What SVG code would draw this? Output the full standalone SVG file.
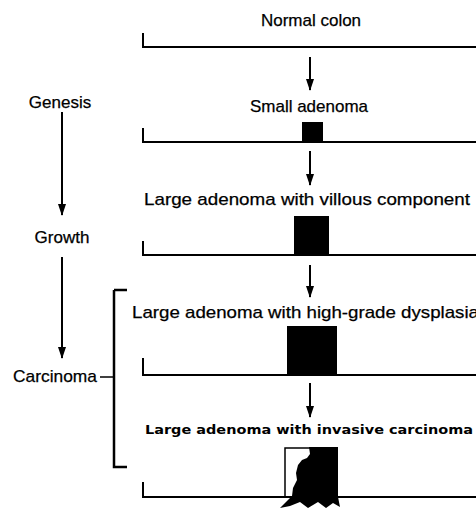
<svg xmlns="http://www.w3.org/2000/svg" width="476" height="508" viewBox="0 0 476 508">
<style>
.t{font-family:"Liberation Sans",Arial,sans-serif;font-size:17px;fill:#000;stroke:#000;stroke-width:0.25}
.ti{font-family:"DejaVu Sans",sans-serif;font-weight:bold;font-size:11.5px;fill:#000}
.ln{stroke:#000;stroke-width:2;fill:none}
.ar{stroke:#000;stroke-width:2;fill:none;marker-end:url(#ah)}
.blk{fill:#000}
</style>
<defs>
<marker id="ah" markerUnits="userSpaceOnUse" markerWidth="12" markerHeight="10" refX="11" refY="4" orient="auto">
<path d="M0,0 L12,4 L0,8 z" fill="#000"/>
</marker>
</defs>
<rect width="476" height="508" fill="#fff"/>
<g id="normal-colon">
<text class="t" x="311" y="26" text-anchor="middle">Normal colon</text>
<path class="ln" d="M143,33 V47 H476"/>
</g>
<g id="small-adenoma">
<text class="t" x="309" y="112" text-anchor="middle">Small adenoma</text>
<path class="ln" d="M143,128 V142 H476"/>
<rect class="blk" x="302" y="122" width="21" height="21"/>
</g>
<g id="villous">
<text class="t" x="144" y="205" textLength="326" lengthAdjust="spacingAndGlyphs">Large adenoma with villous component</text>
<path class="ln" d="M143,241 V255 H476"/>
<rect class="blk" x="294" y="216" width="35" height="40"/>
</g>
<g id="dysplasia">
<text class="t" x="132" y="318" textLength="347" lengthAdjust="spacingAndGlyphs">Large adenoma with high-grade dysplasia</text>
<path class="ln" d="M143,358 V375 H476"/>
<rect class="blk" x="287" y="326" width="50" height="50"/>
</g>
<g id="invasive">
<text class="ti" x="145" y="434" textLength="328" lengthAdjust="spacingAndGlyphs">Large adenoma with invasive carcinoma</text>
<path class="ln" d="M143,482 V497 H476"/>
<rect x="285" y="448" width="52" height="49" fill="none" stroke="#000" stroke-width="1.5"/>
<path class="blk" d="M309,447 H338 V497 L340,507 L333,503 L326,508 L318,502 L308,508 L300,502 L290,506 L280,508 L288,500 L292,496 L293,488 L297,480 L296,473 L298,465 L302,460 L307,458 L310,454 Z"/>
</g>
<g id="genesis"><text class="t" x="60" y="108" text-anchor="middle">Genesis</text></g>
<g id="growth"><text class="t" x="62" y="243" text-anchor="middle">Growth</text></g>
<g id="carcinoma">
<text class="t" x="13" y="382" textLength="84" lengthAdjust="spacingAndGlyphs">Carcinoma</text>
<path d="M114,290 H127 M114,290 V467 H127" stroke="#000" stroke-width="2.5" fill="none"/>
<path d="M100,377 H114" stroke="#000" stroke-width="1.5"/>
</g>
<g id="connectors">
<path class="ar" d="M310,57 V90"/>
<path class="ar" d="M310,151 V185"/>
<path class="ar" d="M310,265 V297"/>
<path class="ar" d="M310,383 V417"/>
<path class="ar" d="M62,112 V215"/>
<path class="ar" d="M62,257 V358"/>
</g>
</svg>
